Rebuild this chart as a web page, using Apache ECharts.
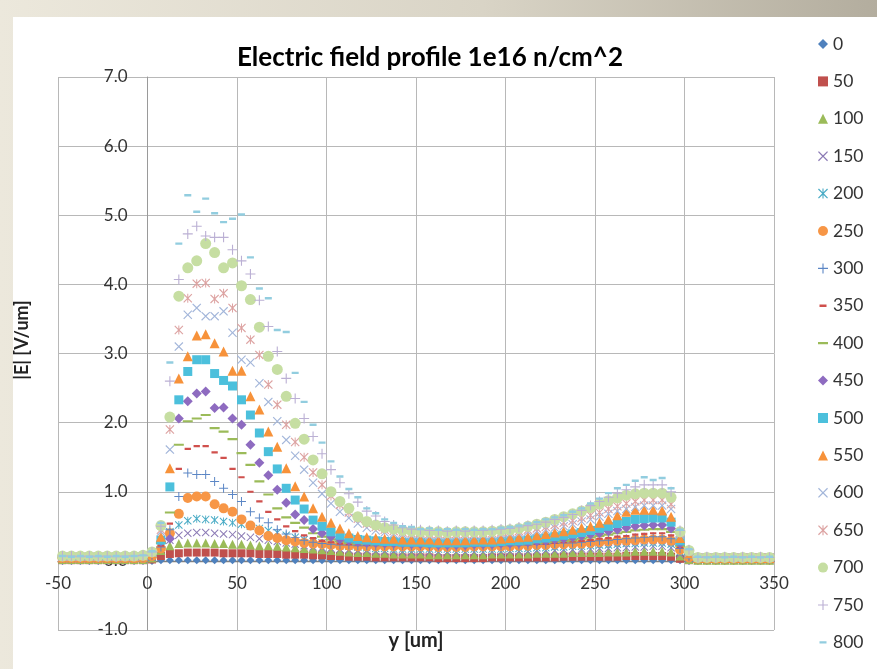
<!DOCTYPE html>
<html>
<head>
<meta charset="utf-8">
<script src="https://cdn.jsdelivr.net/npm/echarts@6/dist/echarts.min.js"></script>
<style>
  html, body { margin:0; padding:0; width:877px; height:669px; overflow:hidden;
    background: linear-gradient(to right, #ECE8DC 0%, #D9D4C6 55%, #B3AD9E 100%); }
  #panel { position:absolute; left:13px; top:17px; width:864px; height:652px; background:#ffffff; }
  #chart { position:absolute; left:0; top:0; width:877px; height:669px; }
</style>
</head>
<body>
<div id="panel"></div>
<div id="chart"></div>
<script>
// ---- data ----
const xPos = [
 -47.5,-42.5,-37.5,-32.5,-27.5,-22.5,-17.5,-12.5,-7.5,-2.5,
 2.5,7.5,12.5,17.5,22.5,27.5,32.5,37.5,42.5,47.5,
 52.5,57.5,62.5,67.5,72.5,77.5,82.5,87.5,92.5,97.5,
 102.5,107.5,112.5,117.5,122.5,127.5,132.5,137.5,142.5,147.5,
 152.5,157.5,162.5,167.5,172.5,177.5,182.5,187.5,192.5,197.5,
 202.5,207.5,212.5,217.5,222.5,227.5,232.5,237.5,242.5,247.5,
 252.5,257.5,262.5,267.5,272.5,277.5,282.5,287.5,292.5,297.5,
 302.5,307.5,312.5,317.5,322.5,327.5,332.5,337.5,342.5,347.5];

const voltages = ['0','50','100','150','200','250','300','350','400','450','500','550','600','650','700','750','800'];

const s0 = [
 0.00,0.00,0.00,0.00,0.00,0.00,0.00,0.00,0.00,0.00,
 0.00,0.01,0.01,0.01,0.01,0.01,0.01,0.01,0.01,0.01,
 0.01,0.01,0.01,0.01,0.01,0.01,0.01,0.01,0.01,0.01,
 0.01,0.01,0.01,0.01,0.01,0.01,0.01,0.01,0.01,0.01,
 0.01,0.01,0.01,0.01,0.01,0.01,0.01,0.01,0.01,0.01,
 0.01,0.01,0.01,0.01,0.01,0.01,0.01,0.01,0.01,0.01,
 0.01,0.01,0.01,0.01,0.01,0.01,0.01,0.01,0.01,0.01,
 0.00,0.00,0.00,0.00,0.00,0.00,0.00,0.00,0.00,0.00];
const s50 = [
 0.01,0.01,0.01,0.01,0.01,0.01,0.01,0.01,0.01,0.01,
 0.02,0.07,0.10,0.11,0.12,0.12,0.12,0.12,0.11,0.11,
 0.11,0.11,0.10,0.10,0.10,0.09,0.09,0.09,0.08,0.08,
 0.07,0.07,0.06,0.06,0.06,0.05,0.05,0.05,0.05,0.05,
 0.05,0.05,0.04,0.04,0.04,0.04,0.04,0.04,0.05,0.05,
 0.05,0.05,0.05,0.05,0.05,0.05,0.06,0.06,0.06,0.06,
 0.06,0.06,0.06,0.07,0.07,0.07,0.07,0.07,0.06,0.03,
 0.01,0.01,0.01,0.01,0.01,0.01,0.01,0.01,0.01,0.01];
const s100 = [
 0.02,0.02,0.02,0.02,0.02,0.02,0.02,0.02,0.02,0.02,
 0.04,0.15,0.22,0.25,0.26,0.26,0.26,0.25,0.25,0.24,
 0.24,0.23,0.22,0.22,0.21,0.20,0.19,0.18,0.17,0.16,
 0.15,0.14,0.13,0.12,0.12,0.11,0.11,0.10,0.10,0.10,
 0.10,0.09,0.09,0.09,0.09,0.09,0.09,0.09,0.10,0.10,
 0.10,0.10,0.10,0.11,0.11,0.11,0.11,0.12,0.12,0.12,
 0.12,0.13,0.13,0.13,0.14,0.14,0.14,0.14,0.13,0.07,
 0.02,0.01,0.01,0.01,0.01,0.01,0.01,0.01,0.01,0.01];
const s150 = [
 0.03,0.03,0.03,0.03,0.03,0.03,0.03,0.03,0.03,0.03,
 0.05,0.20,0.30,0.37,0.40,0.41,0.41,0.40,0.39,0.38,
 0.36,0.34,0.32,0.30,0.28,0.26,0.24,0.22,0.20,0.19,
 0.18,0.17,0.16,0.15,0.15,0.14,0.14,0.14,0.13,0.13,
 0.13,0.13,0.13,0.13,0.13,0.13,0.13,0.13,0.13,0.13,
 0.14,0.14,0.14,0.15,0.15,0.15,0.16,0.16,0.17,0.17,
 0.18,0.18,0.19,0.19,0.20,0.20,0.21,0.21,0.19,0.10,
 0.03,0.02,0.02,0.02,0.02,0.02,0.02,0.02,0.02,0.02];
const s200 = [
 0.03,0.03,0.03,0.03,0.03,0.03,0.03,0.03,0.03,0.04,
 0.06,0.25,0.42,0.52,0.58,0.61,0.60,0.59,0.57,0.55,
 0.53,0.50,0.47,0.44,0.41,0.37,0.34,0.31,0.28,0.26,
 0.24,0.22,0.21,0.20,0.19,0.18,0.18,0.17,0.17,0.17,
 0.17,0.17,0.17,0.17,0.17,0.17,0.17,0.17,0.17,0.17,
 0.18,0.18,0.18,0.19,0.19,0.20,0.20,0.21,0.21,0.22,
 0.23,0.23,0.24,0.25,0.25,0.26,0.26,0.26,0.24,0.13,
 0.04,0.02,0.02,0.02,0.02,0.02,0.02,0.02,0.02,0.02];
const s250 = [
 0.04,0.04,0.04,0.04,0.04,0.04,0.04,0.04,0.04,0.04,
 0.07,0.18,0.40,0.68,0.91,0.93,0.93,0.82,0.76,0.71,
 0.60,0.51,0.44,0.36,0.33,0.30,0.28,0.26,0.25,0.24,
 0.23,0.22,0.22,0.21,0.21,0.21,0.21,0.21,0.21,0.21,
 0.21,0.21,0.20,0.20,0.20,0.20,0.21,0.21,0.21,0.21,
 0.21,0.22,0.22,0.23,0.23,0.24,0.24,0.25,0.25,0.26,
 0.27,0.28,0.29,0.29,0.30,0.31,0.31,0.31,0.29,0.16,
 0.05,0.03,0.03,0.03,0.03,0.03,0.03,0.03,0.03,0.03];
const s300 = [
 0.04,0.04,0.04,0.04,0.04,0.04,0.04,0.04,0.04,0.05,
 0.08,0.20,0.45,0.93,1.27,1.25,1.25,1.15,1.05,0.96,
 0.86,0.71,0.62,0.55,0.45,0.39,0.34,0.30,0.27,0.25,
 0.24,0.23,0.23,0.22,0.22,0.22,0.22,0.22,0.22,0.22,
 0.22,0.21,0.21,0.21,0.21,0.21,0.21,0.22,0.22,0.22,
 0.22,0.23,0.23,0.24,0.24,0.25,0.26,0.26,0.27,0.28,
 0.29,0.30,0.31,0.32,0.33,0.34,0.35,0.35,0.32,0.18,
 0.06,0.03,0.03,0.03,0.03,0.03,0.03,0.03,0.03,0.03];
const s350 = [
 0.04,0.04,0.04,0.04,0.04,0.04,0.04,0.04,0.04,0.05,
 0.09,0.22,0.54,1.33,1.62,1.66,1.66,1.57,1.49,1.33,
 1.21,1.00,0.86,0.71,0.60,0.50,0.43,0.37,0.33,0.29,
 0.27,0.25,0.24,0.24,0.23,0.23,0.23,0.23,0.23,0.23,
 0.23,0.22,0.22,0.22,0.22,0.22,0.22,0.22,0.23,0.23,
 0.23,0.24,0.24,0.25,0.25,0.26,0.27,0.28,0.29,0.30,
 0.32,0.33,0.35,0.36,0.38,0.39,0.40,0.40,0.37,0.20,
 0.07,0.04,0.04,0.04,0.04,0.04,0.04,0.04,0.04,0.04];
const s400 = [
 0.05,0.05,0.05,0.05,0.05,0.05,0.05,0.05,0.05,0.05,
 0.10,0.26,0.70,1.68,2.02,2.06,2.11,1.92,1.87,1.76,
 1.56,1.39,1.15,0.96,0.76,0.63,0.55,0.48,0.40,0.35,
 0.31,0.28,0.26,0.25,0.25,0.24,0.24,0.24,0.24,0.24,
 0.24,0.23,0.23,0.23,0.23,0.23,0.23,0.24,0.24,0.24,
 0.24,0.25,0.25,0.26,0.27,0.28,0.29,0.30,0.32,0.34,
 0.36,0.38,0.40,0.42,0.44,0.45,0.46,0.46,0.42,0.22,
 0.08,0.04,0.04,0.04,0.04,0.04,0.04,0.04,0.04,0.04];
const s450 = [
 0.05,0.05,0.05,0.05,0.05,0.05,0.05,0.05,0.05,0.05,
 0.10,0.28,0.32,2.06,2.31,2.42,2.45,2.21,2.22,2.06,
 1.97,1.68,1.42,1.24,1.03,0.84,0.67,0.59,0.46,0.40,
 0.35,0.31,0.29,0.27,0.26,0.26,0.25,0.25,0.25,0.24,
 0.24,0.24,0.23,0.23,0.23,0.23,0.24,0.24,0.24,0.25,
 0.25,0.26,0.27,0.28,0.29,0.31,0.32,0.34,0.36,0.38,
 0.40,0.43,0.45,0.48,0.50,0.51,0.52,0.52,0.47,0.25,
 0.09,0.04,0.04,0.04,0.04,0.04,0.04,0.04,0.04,0.04];
const s500 = [
 0.05,0.05,0.05,0.05,0.05,0.05,0.05,0.05,0.05,0.06,
 0.11,0.30,1.07,2.33,2.74,2.91,2.91,2.71,2.61,2.53,
 2.33,2.11,1.85,1.58,1.33,1.05,0.88,0.75,0.59,0.50,
 0.42,0.37,0.33,0.31,0.30,0.29,0.28,0.28,0.27,0.27,
 0.27,0.26,0.26,0.26,0.26,0.26,0.27,0.27,0.27,0.28,
 0.29,0.29,0.30,0.32,0.33,0.35,0.37,0.39,0.41,0.44,
 0.47,0.50,0.54,0.57,0.60,0.61,0.62,0.62,0.56,0.29,
 0.10,0.04,0.04,0.04,0.04,0.04,0.04,0.04,0.04,0.04];
const s550 = [
 0.05,0.05,0.05,0.05,0.05,0.05,0.05,0.05,0.05,0.06,
 0.11,0.35,1.34,2.64,2.96,3.26,3.28,3.15,3.03,2.75,
 2.75,2.38,2.19,1.87,1.65,1.34,1.08,0.93,0.76,0.64,
 0.55,0.47,0.40,0.36,0.34,0.33,0.32,0.32,0.31,0.31,
 0.31,0.31,0.30,0.30,0.30,0.30,0.31,0.31,0.31,0.32,
 0.33,0.34,0.35,0.37,0.39,0.41,0.43,0.45,0.48,0.50,
 0.55,0.60,0.66,0.71,0.74,0.74,0.74,0.73,0.64,0.33,
 0.11,0.04,0.04,0.04,0.04,0.04,0.04,0.04,0.04,0.04];
const s600 = [
 0.06,0.06,0.06,0.06,0.06,0.06,0.06,0.06,0.06,0.07,
 0.12,0.42,1.61,3.10,3.56,3.66,3.54,3.54,3.61,3.30,
 2.91,2.87,2.57,2.30,2.02,1.75,1.52,1.32,1.13,0.97,
 0.83,0.71,0.62,0.54,0.48,0.44,0.41,0.39,0.38,0.37,
 0.37,0.36,0.36,0.36,0.36,0.36,0.36,0.37,0.37,0.38,
 0.39,0.40,0.42,0.43,0.45,0.48,0.50,0.53,0.57,0.60,
 0.64,0.68,0.72,0.75,0.78,0.80,0.80,0.80,0.75,0.38,
 0.12,0.05,0.05,0.05,0.05,0.05,0.05,0.05,0.05,0.05];
const s650 = [
 0.06,0.06,0.06,0.06,0.06,0.06,0.06,0.06,0.06,0.07,
 0.12,0.45,1.90,3.34,3.80,4.01,4.02,3.79,3.87,3.66,
 3.37,3.20,2.98,2.55,2.26,1.97,1.72,1.50,1.28,1.10,
 0.94,0.81,0.70,0.61,0.54,0.49,0.45,0.43,0.41,0.40,
 0.40,0.39,0.39,0.39,0.39,0.39,0.39,0.40,0.40,0.41,
 0.42,0.43,0.45,0.47,0.49,0.52,0.55,0.58,0.62,0.66,
 0.70,0.75,0.79,0.83,0.86,0.88,0.88,0.88,0.82,0.40,
 0.13,0.05,0.05,0.05,0.05,0.05,0.05,0.05,0.05,0.05];
const s700 = [
 0.07,0.07,0.07,0.07,0.07,0.07,0.07,0.07,0.07,0.08,
 0.13,0.51,2.08,3.83,4.24,4.34,4.59,4.46,4.24,4.31,
 3.98,3.78,3.38,2.96,2.77,2.38,1.99,1.76,1.46,1.26,
 1.00,0.86,0.76,0.64,0.57,0.52,0.48,0.46,0.44,0.43,
 0.42,0.42,0.42,0.41,0.42,0.42,0.42,0.42,0.43,0.44,
 0.45,0.47,0.50,0.53,0.56,0.60,0.64,0.68,0.72,0.77,
 0.82,0.87,0.91,0.95,0.97,0.98,0.98,0.98,0.92,0.42,
 0.15,0.05,0.05,0.05,0.05,0.05,0.05,0.05,0.05,0.05];
const s750 = [
 0.07,0.07,0.06,0.07,0.06,0.07,0.06,0.07,0.07,0.08,
 0.13,0.50,2.60,4.07,4.73,4.84,4.70,4.68,4.68,4.50,
 4.34,4.15,3.77,3.39,3.03,2.64,2.35,2.06,1.80,1.55,
 1.32,1.13,0.97,0.85,0.72,0.65,0.57,0.52,0.48,0.46,
 0.45,0.44,0.44,0.43,0.44,0.43,0.44,0.44,0.45,0.46,
 0.47,0.49,0.51,0.53,0.56,0.60,0.63,0.67,0.73,0.80,
 0.86,0.92,0.98,1.03,1.07,1.10,1.10,1.10,1.00,0.44,
 0.16,0.05,0.06,0.05,0.06,0.05,0.06,0.05,0.06,0.05];
const s800 = [
 0.07,0.06,0.07,0.06,0.07,0.06,0.07,0.06,0.07,0.08,
 0.14,0.55,2.87,4.59,5.29,5.05,5.24,5.03,4.90,4.95,
 5.01,4.39,3.94,3.80,3.34,3.31,2.72,2.30,1.97,1.71,
 1.44,1.22,1.04,0.92,0.76,0.69,0.60,0.55,0.50,0.49,
 0.46,0.47,0.45,0.46,0.45,0.46,0.45,0.46,0.46,0.48,
 0.49,0.51,0.54,0.56,0.60,0.63,0.66,0.71,0.76,0.83,
 0.90,0.98,1.05,1.10,1.16,1.21,1.17,1.20,1.05,0.45,
 0.17,0.06,0.05,0.06,0.05,0.06,0.05,0.06,0.05,0.06];

const seriesValues = [s0,s50,s100,s150,s200,s250,s300,s350,s400,s450,s500,s550,s600,s650,s700,s750,s800];

// ---- styles ----
const P_X = 'path://M0,0.9L0.9,0L5,4.1L9.1,0L10,0.9L5.9,5L10,9.1L9.1,10L5,5.9L0.9,10L0,9.1L4.1,5Z';
const P_STAR = 'path://M0,0.9L0.9,0L5,4.1L9.1,0L10,0.9L5.9,5L10,9.1L9.1,10L5,5.9L0.9,10L0,9.1L4.1,5Z M4.45,0L5.55,0L5.55,10L4.45,10Z';
const P_PLUS = 'path://M4.45,0L5.55,0L5.55,4.45L10,4.45L10,5.55L5.55,5.55L5.55,10L4.45,10L4.45,5.55L0,5.55L0,4.45L4.45,4.45Z';
const P_SDASH = 'path://M0,0L0.01,0L0.01,0.01Z M10,10L9.99,10L9.99,9.99Z M1.5,3.8L8.5,3.8L8.5,6.2L1.5,6.2Z';
const P_LDASH = 'path://M0,0L0.01,0L0.01,0.01Z M10,10L9.99,10L9.99,9.99Z M0,3.9L10,3.9L10,6.1L0,6.1Z';

const styles = [
  {symbol:'diamond', size:8,  color:'#4F81BD'},
  {symbol:'rect',    size:8,  color:'#C0504D'},
  {symbol:'triangle',size:9,  color:'#9BBB59'},
  {symbol:P_X,       size:8,  color:'#8C7BB5'},
  {symbol:P_STAR,    size:8,  color:'#4BACC6'},
  {symbol:'circle',  size:10, color:'#F79646'},
  {symbol:P_PLUS,    size:9,  color:'#5B86C5'},
  {symbol:P_SDASH,   size:9,  color:'#D0504D'},
  {symbol:P_LDASH,   size:10, color:'#9BBB59'},
  {symbol:'diamond', size:10, color:'#8E6BC0'},
  {symbol:'rect',    size:9,  color:'#4CC0DC'},
  {symbol:'triangle',size:10, color:'#F7923A'},
  {symbol:P_X,       size:9,  color:'#A3B6DA'},
  {symbol:P_STAR,    size:9,  color:'#DDA3A2'},
  {symbol:'circle',  size:11, color:'#C6DEA2'},
  {symbol:P_PLUS,    size:10, color:'#BBB0D4'},
  {symbol:P_SDASH,   size:10, color:'#92CDDF'}
];

const FONT = 'Lato';
const chart = echarts.init(document.getElementById('chart'), null, {renderer:'canvas'});

const series = voltages.map((name, si) => ({
  name: name,
  type: 'scatter',
  symbol: styles[si].symbol,
  symbolSize: styles[si].size,
  itemStyle: { color: styles[si].color, opacity: 1 },
  data: xPos.map((x, i) => [x, seriesValues[si][i]]),
  animation: false,
  z: 3
}));

chart.setOption({
  backgroundColor: 'transparent',
  animation: false,
  title: {
    text: 'Electric field profile 1e16 n/cm^2',
    left: 430, top: 45, textAlign: 'center', padding: 0,
    textStyle: { fontFamily: FONT, fontWeight: 'bold', fontSize: 26, color: '#000000' }
  },
  legend: {
    orient: 'vertical',
    left: 813, top: 30,
    itemWidth: 10, itemHeight: 10, itemGap: 19.4,
    textStyle: { fontFamily: FONT, fontSize: 17.5, color: '#333333', lineHeight: 18 },
    data: voltages
  },
  grid: { left: 58, right: 103, top: 77, bottom: 39, containLabel: false, outerBoundsMode: 'none' },
  xAxis: {
    type: 'value', min: -50, max: 350, interval: 50,
    offset: -69.125,
    name: 'y [um]', nameLocation: 'middle', nameGap: 70,
    nameTextStyle: { fontFamily: FONT, fontWeight: 'bold', fontSize: 20, color: '#222222' },
    axisLine: { onZero: false, lineStyle: { color: '#7F7F7F', width: 1.3 } },
    axisTick: { show: false },
    axisLabel: { fontFamily: FONT, fontSize: 17, color: '#333333', margin: 14 },
    splitLine: { show: true, lineStyle: { color: '#B8B8B8', width: 1 } }
  },
  yAxis: {
    type: 'value', min: -1, max: 7, interval: 1,
    offset: -89.5,
    name: '|E| [V/um]', nameLocation: 'middle', nameGap: 116,
    nameTextStyle: { fontFamily: FONT, fontWeight: 'bold', fontSize: 18, color: '#222222', padding: [0,0,0,27] },
    axisLine: { show: true, onZero: false, lineStyle: { color: '#9A9A9A', width: 1 } },
    axisTick: { show: false },
    axisLabel: { fontFamily: FONT, fontSize: 17, color: '#333333', margin: 20,
      formatter: v => v.toFixed(1) },
    splitLine: { show: true, lineStyle: { color: '#B8B8B8', width: 1 } }
  },
  series: series
});
</script>
</body>
</html>
